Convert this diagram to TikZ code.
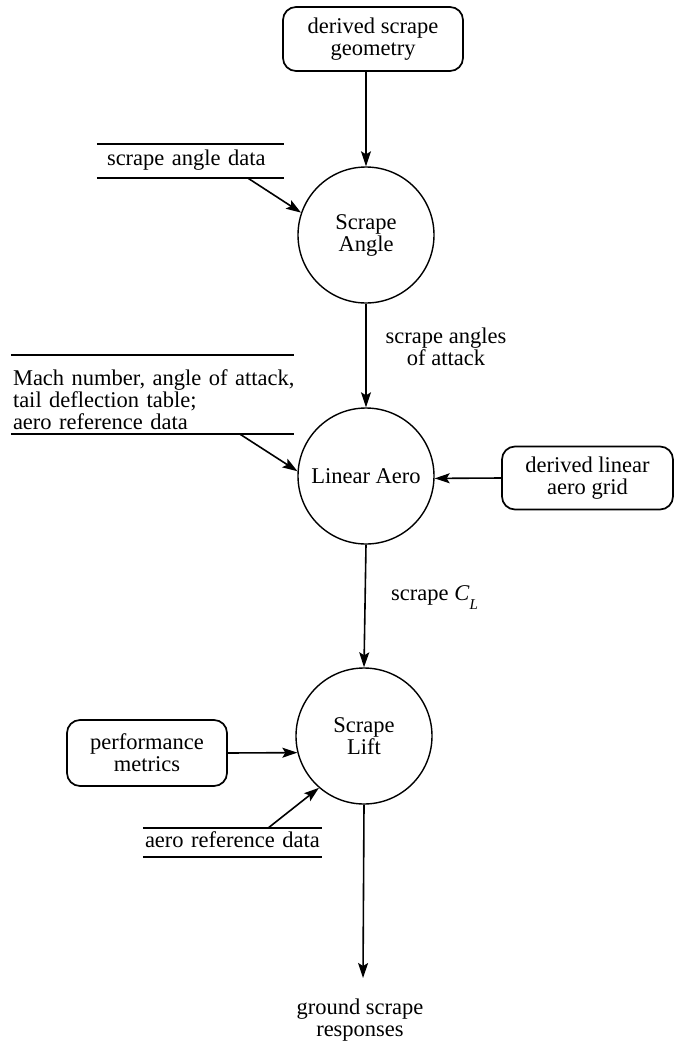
\documentclass[tikz,border=0pt]{standalone}
\usepackage{fontspec}
\setmainfont{Liberation Serif}
\usetikzlibrary{arrows.meta,calc}
\begin{document}
\begin{tikzpicture}[x=1pt,y=-1pt,
  font={\fontsize{22.5}{22}\selectfont},
  term/.style={draw, line width=1.7pt, rounded corners=13pt, align=center, inner sep=0pt},
  proc/.style={draw, circle, line width=1.4pt, minimum size=136pt, inner sep=0pt, align=center},
  store/.style={inner ysep=0pt, align=left},
  storeline/.style={line width=1.9pt},
  flow/.style={line width=1.6pt, -{Stealth[length=15pt,width=10pt,inset=3pt]}},
  lbl/.style={align=center, inner sep=0pt}]
\useasboundingbox (0,0) rectangle (674,1045);

% processes
\node[proc] (sa) at (366,235) {Scrape\\Angle};
\node[proc] (la) at (366,476) {Linear Aero};
\node[proc] (sl) at (364,736) {Scrape\\Lift};

% terminators
\node[term, minimum width=180pt, minimum height=64pt] (dsg) at (373,39) {derived scrape\\geometry};
\node[term, minimum width=171pt, minimum height=63pt] (dlag) at (587.5,478) {derived linear\\aero grid};
\node[term, minimum width=160pt, minimum height=66pt] (pm) at (147,753) {performance\\metrics};

% data stores
\node[store, text width=167pt, inner xsep=10pt, minimum height=34pt] (sad) at (190.5,161) {\strut scrape angle data};
\draw[storeline] (sad.north west) -- (sad.north east) (sad.south west) -- (sad.south east);

\node[store, text width=279pt, inner xsep=2pt, minimum height=79pt] (mach) at (152.5,400) {\makebox[279pt][l]{Mach number, angle of attack,}\\tail deflection table;\\aero reference data};
\draw[storeline] ([yshift=5.5pt]mach.north west) -- ([yshift=5.5pt]mach.north east) ([yshift=5.5pt]mach.south west) -- ([yshift=5.5pt]mach.south east);

\node[store, text width=175pt, inner xsep=2pt, minimum height=29pt] (ard) at (232.5,842.5) {\strut aero reference data};
\draw[storeline] (ard.north west) -- (ard.north east) (ard.south west) -- (ard.south east);

% labels
\node[lbl] (l1) at (446,347) {scrape angles\\of attack};
\node[lbl, anchor=base west] (l2) at (391,600) {scrape \textit{C}\raisebox{-9pt}{\fontsize{15}{15}\selectfont\textit{L}}};
\node[lbl] (gsr) at (360,1020) {ground scrape\\responses};
\coordinate (out) at (363,978);

% flows
\draw[flow] (dsg.south -| sa.north) -- (sa.north);
\draw[flow] ($(sad.south west)!0.807!(sad.south east)$) -- (sa.161);
\draw[flow] (sa.south) -- (la.north);
\draw[flow] ([yshift=5.5pt]$(mach.south west)!0.809!(mach.south east)$) -- (la.176);
\draw[flow] (dlag.west) -- (la.358);
\draw[flow] (la.south) -- (sl.north);
\draw[flow] (pm.east) -- (sl.194);
\draw[flow] ($(ard.north west)!0.70!(ard.north east)$) -- (sl.229);
\draw[flow] (sl.south) -- (out);
\end{tikzpicture}
\end{document}
